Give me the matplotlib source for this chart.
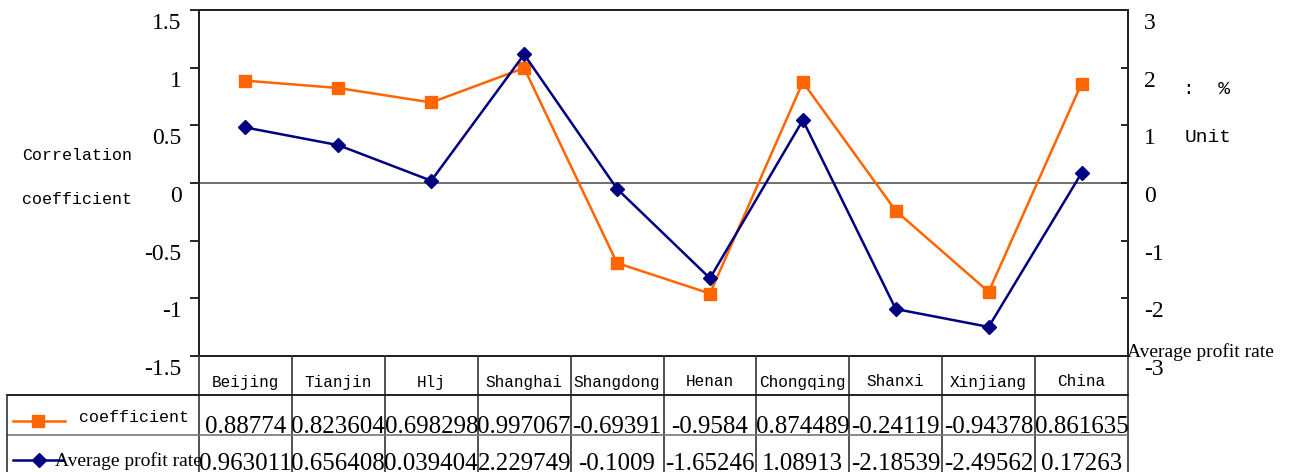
import numpy as np
import matplotlib
matplotlib.use("Agg")
import matplotlib.pyplot as plt
from matplotlib.lines import Line2D
from matplotlib.transforms import blended_transform_factory, ScaledTranslation

regions = ["Beijing", "Tianjin", "Hlj", "Shanghai", "Shangdong", "Henan",
           "Chongqing", "Shanxi", "Xinjiang", "China"]
coef = [0.88774, 0.823604, 0.698298, 0.997067, -0.69391, -0.9584,
        0.874489, -0.24119, -0.94378, 0.861635]
profit = [0.963011, 0.656408, 0.039404, 2.229749, -0.1009, -1.65246,
          1.08913, -2.18539, -2.49562, 0.17263]
coef_txt = ["0.88774", "0.823604", "0.698298", "0.997067", "-0.69391", "-0.9584",
            "0.874489", "-0.24119", "-0.94378", "0.861635"]
profit_txt = ["0.963011", "0.656408", "0.039404", "2.229749", "-0.1009", "-1.65246",
              "1.08913", "-2.18539", "-2.49562", "0.17263"]
left_ticks = [-1.5, -1, -0.5, 0, 0.5, 1, 1.5]
right_ticks = [-3, -2, -1, 0, 1, 2, 3]

W, H = 1295, 472
serif = "Liberation Serif"
mono = "Liberation Mono"
orange = "#FF6600"
navy = "#000080"

fig = plt.figure(figsize=(W / 100, H / 100), dpi=100)
fx = lambda px: px / W
fy = lambda py: 1 - py / H

# plot area: x 199..1128, y 10..356 (pixels)
ax = fig.add_axes([fx(199), fy(356), fx(1128) - fx(199), fy(10) - fy(356)])
ax2 = ax.twinx()
x = np.arange(len(regions))

ax.set_xlim(-0.5, len(regions) - 0.5)
ax.set_ylim(-1.5, 1.5)
ax2.set_ylim(-3, 3)
ax.axhline(0, color="#555555", lw=1.2)

ax.plot(x, coef, color=orange, lw=1.8, marker="s", ms=8, zorder=3)
ax2.plot(x, profit, color=navy, lw=1.8, marker="D", ms=7.5, zorder=3)

ax.set_xticks([])
ax.set_yticks(left_ticks)
ax.set_yticklabels(["%g" % v for v in left_ticks], fontfamily=serif, fontsize=17)
ax.tick_params(axis="y", direction="out", length=6.5, width=1.2, pad=6)
ax2.set_yticks(right_ticks)
ax2.set_yticklabels(["%g" % v for v in right_ticks], fontfamily=serif, fontsize=17)
ax2.tick_params(axis="y", direction="in", length=5, width=1.2, pad=11.5)
ax2.set_xticks([])
for a in (ax, ax2):
    for s in a.spines.values():
        s.set_color("#222222")
        s.set_linewidth(1.4)
    # tick labels sit a little below their ticks
    shift = ScaledTranslation(0, -0.11, fig.dpi_scale_trans)
    for lab in a.get_yticklabels():
        lab.set_transform(lab.get_transform() + shift)

# axis annotations
fig.text(fx(22), fy(156), "Correlation", family=mono, fontsize=12, va="center", ha="left")
fig.text(fx(22), fy(200), "coefficient", family=mono, fontsize=12, va="center", ha="left")
fig.text(fx(1183), fy(90), ":  %", family=mono, fontsize=14, va="center", ha="left")
fig.text(fx(1185), fy(137), "Unit", family=mono, fontsize=14, va="center", ha="left")
fig.text(fx(1127), fy(352), "Average profit rate", family=serif, fontsize=14,
         va="center", ha="left")

# data table below the chart
tr = blended_transform_factory(ax.transData, fig.transFigure)
for i in range(len(regions) + 1):
    fig.add_artist(Line2D([i - 0.5, i - 0.5], [fy(356), 0], transform=tr,
                          color="#333333", lw=1.2))
fig.add_artist(Line2D([fx(7), fx(1128)], [fy(395), fy(395)], color="#222222", lw=1.4))
fig.add_artist(Line2D([fx(7), fx(1128)], [fy(435), fy(435)], color="#777777", lw=1.2))
fig.add_artist(Line2D([fx(7), fx(7)], [fy(395), 0], color="#333333", lw=1.2))

for i, name in enumerate(regions):
    fig.text(i, fy(382), name, transform=tr, family=mono, fontsize=11.5,
             ha="center", va="center")
    fig.text(i, fy(427), coef_txt[i], transform=tr, family=serif, fontsize=18,
             ha="center", va="center")
    fig.text(i, fy(464), profit_txt[i], transform=tr, family=serif, fontsize=18,
             ha="center", va="center")

# legend keys inside the table
fig.add_artist(Line2D([fx(13), fx(65)], [fy(421), fy(421)], color=orange, lw=1.8))
fig.add_artist(Line2D([fx(38)], [fy(421)], color=orange, marker="s", ms=8, lw=0))
fig.text(fx(134), fy(417), "coefficient", family=mono, fontsize=12, ha="center", va="center")
fig.add_artist(Line2D([fx(13), fx(63)], [fy(460), fy(460)], color=navy, lw=1.8))
fig.add_artist(Line2D([fx(39)], [fy(460)], color=navy, marker="D", ms=7.5, lw=0))
fig.text(fx(55), fy(461), "Average profit rate", family=serif, fontsize=14,
         ha="left", va="center")

fig.savefig("out.png", dpi=100)
